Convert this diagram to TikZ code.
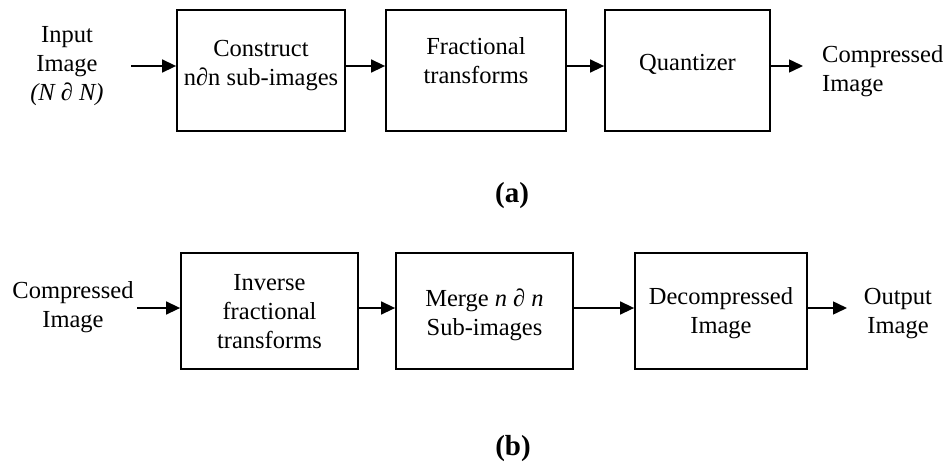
\documentclass[tikz,border=0pt]{standalone}
\usepackage{fontspec}
\setmainfont{Liberation Serif}
\usetikzlibrary{arrows.meta}
\begin{document}
\begin{tikzpicture}[x=1pt,y=-1pt,
  box/.style={draw, line width=1.8pt, inner sep=0pt},
  txt/.style={font=\fontsize{24.5}{29}\selectfont, align=center, inner sep=0pt},
  lbl/.style={font=\fontsize{29}{34}\selectfont\bfseries, inner sep=0pt},
  arr/.style={line width=1.5pt, -{Triangle[length=14pt,width=13pt]}}]
\useasboundingbox (0,0) rectangle (948,466);
% row (a)
\node[box, minimum width=168pt, minimum height=121pt] (a1) at (261,70.5) {};
\node[box, minimum width=180pt, minimum height=121pt] (a2) at (476,70.5) {};
\node[box, minimum width=165pt, minimum height=121pt] (a3) at (687.5,70.5) {};
\node[txt, anchor=base] (tin) at (67,100) {Input\\Image\\\textit{(N ∂ N)}};
\node[txt, anchor=base] (t1) at (261,85) {Construct\\n∂n sub-images};
\node[txt, anchor=base] (t2) at (476,83) {Fractional\\transforms};
\node[txt, anchor=base] (t3) at (687.5,70) {Quantizer};
\node[txt, align=left, anchor=base west] (tout) at (822,91) {Compressed\\Image};
\coordinate (ina) at (131,66);
\coordinate (outa) at (803,66);
\draw[arr] (ina) -- (a1.west |- ina);
\draw[arr] (a1.east |- ina) -- (a2.west |- ina);
\draw[arr] (a2.east |- ina) -- (a3.west |- ina);
\draw[arr] (a3.east |- outa) -- (outa);
\node[lbl, anchor=base] (la) at (512,202) {(a)};
% row (b)
\node[box, minimum width=177pt, minimum height=116pt] (b1) at (269.5,311) {};
\node[box, minimum width=177pt, minimum height=116pt] (b2) at (484.5,311) {};
\node[box, minimum width=172pt, minimum height=116pt] (b3) at (721,311) {};
\node[txt, anchor=base] (tinb) at (73,327) {Compressed\\Image};
\node[txt, anchor=base] (u1) at (269.5,348) {Inverse\\fractional\\transforms};
\node[txt, anchor=base] (u2) at (484.5,335) {Merge \textit{n ∂ n}\\Sub-images};
\node[txt, anchor=base] (u3) at (721,333) {Decompressed\\Image};
\node[txt, anchor=base] (toutb) at (898,333) {Output\\Image};
\coordinate (inb) at (137,308);
\coordinate (outb) at (847,308);
\draw[arr] (inb) -- (b1.west |- inb);
\draw[arr] (b1.east |- inb) -- (b2.west |- inb);
\draw[arr] (b2.east |- inb) -- (b3.west |- inb);
\draw[arr] (b3.east |- outb) -- (outb);
\node[lbl, anchor=base] (lb) at (513,455) {(b)};
\end{tikzpicture}
\end{document}
